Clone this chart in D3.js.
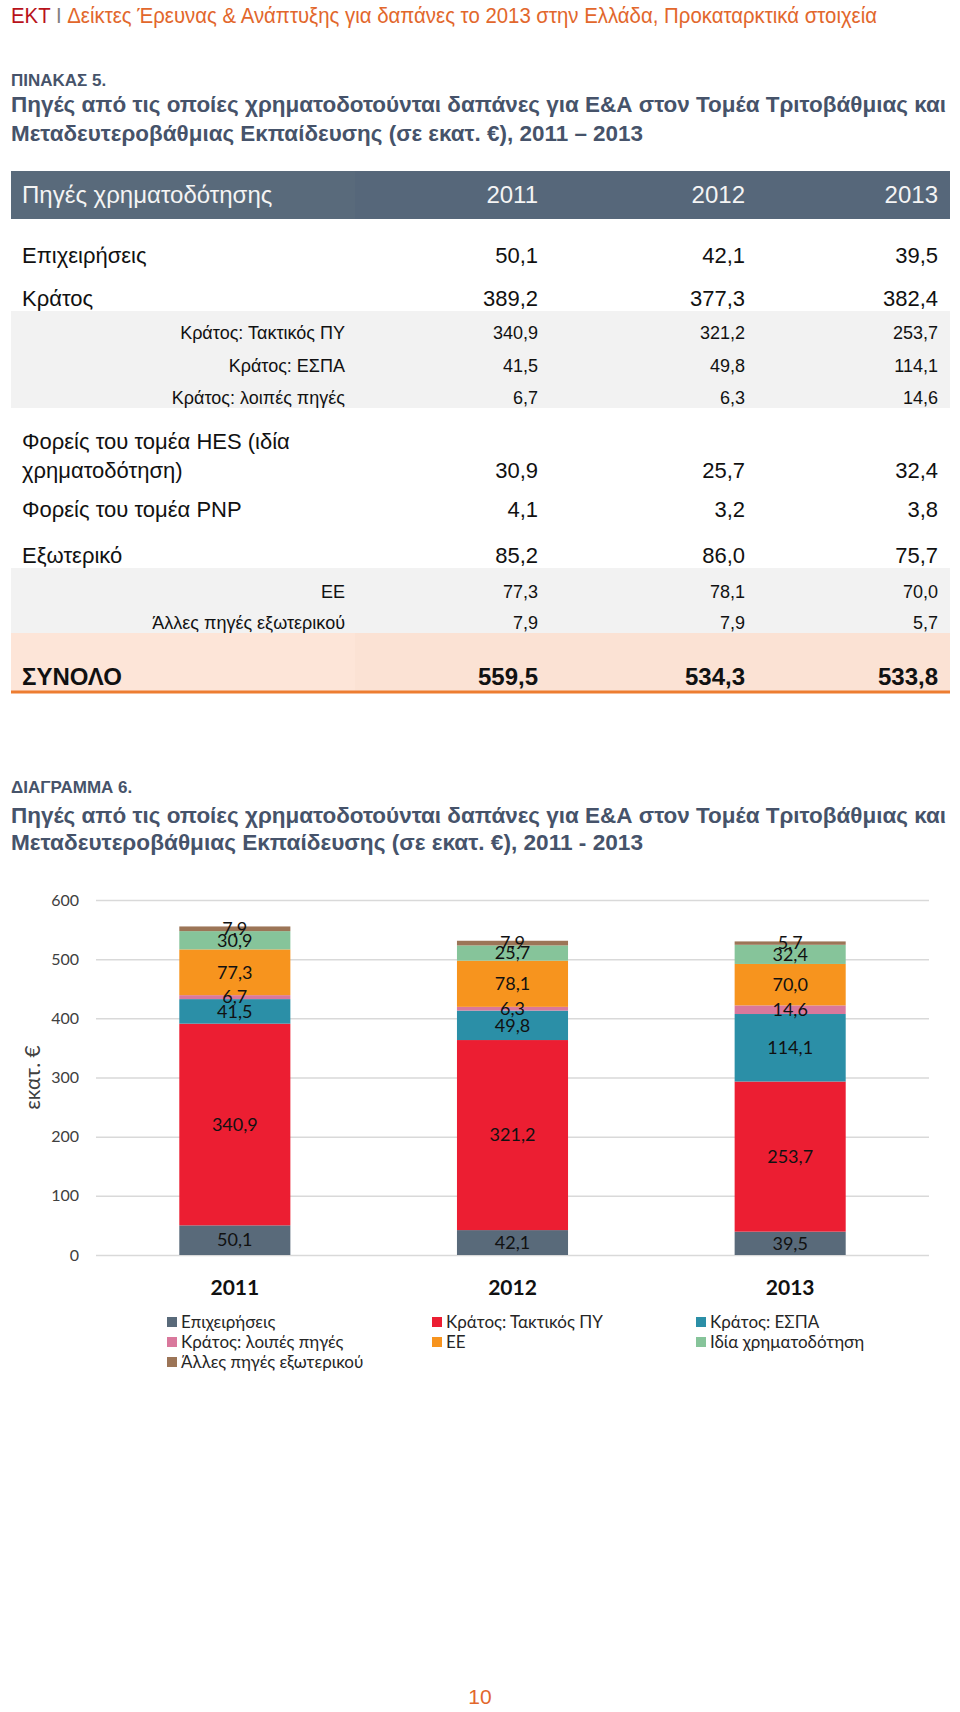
<!DOCTYPE html>
<html>
<head>
<meta charset="utf-8">
<script src="https://cdn.jsdelivr.net/npm/d3@7"></script>
<style>
    body { margin: 0; background: #fff; }
    svg { display: block; }
</style>
</head>
<body>
<script>
// Δεδομένα (σε εκατ. €)
const years = ['2011', '2012', '2013'];
const business = [50.1, 42.1, 39.5];
const stateTotal = [389.2, 377.3, 382.4];
const stateRegular = [340.9, 321.2, 253.7];
const stateEspa = [41.5, 49.8, 114.1];
const stateOther = [6.7, 6.3, 14.6];
const hes = [30.9, 25.7, 32.4];
const pnp = [4.1, 3.2, 3.8];
const abroad = [85.2, 86.0, 75.7];
const eu = [77.3, 78.1, 70.0];
const abroadOther = [7.9, 7.9, 5.7];
const total = [559.5, 534.3, 533.8];

const yTicks = [0, 100, 200, 300, 400, 500, 600];

// σειρές του διαγράμματος, από κάτω προς τα πάνω
const seriesNames = ['Επιχειρήσεις', 'Κράτος: Τακτικός ΠΥ', 'Κράτος: ΕΣΠΑ', 'Κράτος: λοιπές πηγές', 'ΕΕ', 'Ιδία χρηματοδότηση', 'Άλλες πηγές εξωτερικού'];
const seriesValues = [business, stateRegular, stateEspa, stateOther, eu, hes, abroadOther];
const seriesColors = ['#596a7a', '#ec1e32', '#2b8fa7', '#d9789c', '#f7941e', '#86c49a', '#9c7557'];

const locale = d3.formatLocale({ decimal: ',', thousands: '.', grouping: [3], currency: ['', '€'] });
const fmt = locale.format('.1f');

const W = 960, H = 1712;
const svg = d3.select('body').append('svg').attr('width', W).attr('height', H);

const ARIAL = '"Liberation Sans", Arial, sans-serif';
const CALIBRI = 'Lato, "Open Sans", sans-serif';
const titleColor = '#46536a';

// Κεφαλίδα σελίδας
const head = svg.append('text')
    .attr('x', 11).attr('y', 23)
    .attr('font-family', ARIAL).attr('font-size', 22)
    .attr('textLength', 866).attr('lengthAdjust', 'spacingAndGlyphs');
head.append('tspan').attr('fill', '#b8121b').text('ΕΚΤ');
head.append('tspan').attr('fill', '#808080').text(' I ');
head.append('tspan').attr('fill', '#e2672c').text('Δείκτες Έρευνας & Ανάπτυξης για δαπάνες το 2013 στην Ελλάδα, Προκαταρκτικά στοιχεία');

// Τίτλοι (πίνακας και διάγραμμα έχουν ίδια μορφή)
const drawTitle = (ys, label, line2) => {
    svg.append('text').attr('x', 11).attr('y', ys[0])
        .attr('font-family', ARIAL).attr('font-size', 17).attr('font-weight', 'bold')
        .attr('fill', titleColor).text(label);
    svg.append('text').attr('x', 11).attr('y', ys[1])
        .attr('font-family', ARIAL).attr('font-size', 22).attr('font-weight', 'bold')
        .attr('fill', titleColor)
        .attr('textLength', 935).attr('lengthAdjust', 'spacingAndGlyphs')
        .text('Πηγές από τις οποίες χρηματοδοτούνται δαπάνες για Ε&Α στον Τομέα Τριτοβάθμιας και');
    svg.append('text').attr('x', 11).attr('y', ys[2])
        .attr('font-family', ARIAL).attr('font-size', 22).attr('font-weight', 'bold')
        .attr('fill', titleColor)
        .attr('textLength', 632).attr('lengthAdjust', 'spacingAndGlyphs')
        .text(line2);
};
drawTitle([86, 112, 141], 'ΠΙΝΑΚΑΣ 5.', 'Μεταδευτεροβάθμιας Εκπαίδευσης (σε εκατ. €), 2011 – 2013');
drawTitle([793, 823, 850], 'ΔΙΑΓΡΑΜΜΑ 6.', 'Μεταδευτεροβάθμιας Εκπαίδευσης (σε εκατ. €), 2011 - 2013');

// ---------- Πίνακας ----------
const tLeft = 11, tRight = 950, tSplit = 355;
const colX = [538, 745, 938];

// φόντα
svg.append('rect').attr('x', tLeft).attr('y', 171).attr('width', tSplit - tLeft).attr('height', 48).attr('fill', '#596a7b');
svg.append('rect').attr('x', tSplit).attr('y', 171).attr('width', tRight - tSplit).attr('height', 48).attr('fill', '#56677a');
svg.append('rect').attr('x', tLeft).attr('y', 311).attr('width', tRight - tLeft).attr('height', 97).attr('fill', '#f2f2f2');
svg.append('rect').attr('x', tLeft).attr('y', 568).attr('width', tRight - tLeft).attr('height', 65).attr('fill', '#f2f2f2');
svg.append('rect').attr('x', tLeft).attr('y', 633).attr('width', tSplit - tLeft).attr('height', 58).attr('fill', '#fde5d8');
svg.append('rect').attr('x', tSplit).attr('y', 633).attr('width', tRight - tSplit).attr('height', 58).attr('fill', '#fbe2d4');
svg.append('line').attr('x1', tLeft).attr('x2', tRight).attr('y1', 692).attr('y2', 692)
    .attr('stroke', '#ed7d31').attr('stroke-width', 3);

// γραμμή κεφαλίδας
const headRow = svg.append('g').attr('font-family', ARIAL).attr('font-size', 24).attr('fill', '#f4f4f4');
headRow.append('text').attr('x', 22).attr('y', 203).text('Πηγές χρηματοδότησης');
headRow.selectAll('text.yr').data(years).join('text')
    .attr('class', 'yr')
    .attr('x', (d, i) => colX[i]).attr('y', 203)
    .attr('text-anchor', 'end').text(d => d);

// γραμμές πίνακα: κύριες (αριστερά) και υπογραμμές (δεξιά στοίχιση)
const tableRows = [
    { label: ['Επιχειρήσεις'], values: business, y: 263, kind: 'main' },
    { label: ['Κράτος'], values: stateTotal, y: 306, kind: 'main' },
    { label: ['Κράτος: Τακτικός ΠΥ'], values: stateRegular, y: 339, kind: 'sub' },
    { label: ['Κράτος: ΕΣΠΑ'], values: stateEspa, y: 372, kind: 'sub' },
    { label: ['Κράτος: λοιπές πηγές'], values: stateOther, y: 404, kind: 'sub' },
    { label: ['Φορείς του τομέα HES (ιδία', 'χρηματοδότηση)'], values: hes, y: 478, kind: 'main' },
    { label: ['Φορείς του τομέα PNP'], values: pnp, y: 517, kind: 'main' },
    { label: ['Εξωτερικό'], values: abroad, y: 563, kind: 'main' },
    { label: ['ΕΕ'], values: eu, y: 598, kind: 'sub' },
    { label: ['Άλλες πηγές εξωτερικού'], values: abroadOther, y: 629, kind: 'sub' },
    { label: ['ΣΥΝΟΛΟ'], values: total, y: 685, kind: 'total' }
];

const rowG = svg.append('g').attr('font-family', ARIAL).attr('fill', '#111');
tableRows.forEach((row) => {
    const size = row.kind === 'sub' ? 18 : (row.kind === 'total' ? 24 : 22);
    const weight = row.kind === 'total' ? 'bold' : 'normal';
    const n = row.label.length;
    row.label.forEach((line, k) => {
        rowG.append('text')
            .attr('x', row.kind === 'sub' ? 345 : 22)
            .attr('y', row.y - (n - 1 - k) * 29)
            .attr('text-anchor', row.kind === 'sub' ? 'end' : 'start')
            .attr('font-size', size).attr('font-weight', weight)
            .text(line);
    });
    row.values.forEach((v, i) => {
        rowG.append('text')
            .attr('x', colX[i]).attr('y', row.y)
            .attr('text-anchor', 'end')
            .attr('font-size', size).attr('font-weight', weight)
            .text(fmt(v));
    });
});

// ---------- Διάγραμμα ----------
const plot = { left: 96, right: 929, top: 900, bottom: 1255 };

const x = d3.scaleBand().domain(years).range([plot.left, plot.right])
    .paddingInner(0.6).paddingOuter(0.3);
const y = d3.scaleLinear().domain([0, 600]).range([plot.bottom, plot.top]);

// άξονας y με γραμμές πλέγματος
const yAxis = svg.append('g')
    .attr('transform', `translate(${plot.left},0)`)
    .call(d3.axisLeft(y).tickValues(yTicks).tickSize(-(plot.right - plot.left)).tickPadding(17).tickFormat(d3.format('d')));
yAxis.select('.domain').remove();
yAxis.selectAll('.tick line').attr('stroke', '#d9d9d9').attr('stroke-width', 1.5);
yAxis.selectAll('.tick text').attr('font-family', CALIBRI).attr('font-size', 16).attr('fill', '#404040');

svg.append('text')
    .attr('transform', `translate(40,${(plot.top + plot.bottom) / 2}) rotate(-90)`)
    .attr('text-anchor', 'middle')
    .attr('font-family', CALIBRI).attr('font-size', 21).attr('fill', '#404040')
    .text('εκατ. €');

// στοίβαξη
const table = years.map((yr, i) => {
    const row = { year: yr };
    seriesNames.forEach((s, k) => { row[s] = seriesValues[k][i]; });
    return row;
});
const stacked = d3.stack().keys(seriesNames)(table);

const layers = svg.append('g').selectAll('g')
    .data(stacked).join('g')
    .attr('fill', (d, k) => seriesColors[k]);

layers.selectAll('rect')
    .data(d => d).join('rect')
    .attr('x', d => x(d.data.year))
    .attr('width', x.bandwidth())
    .attr('y', d => y(d[1]))
    .attr('height', d => y(d[0]) - y(d[1]));

// ετικέτες τιμών στο κέντρο κάθε τμήματος
const labels = svg.append('g').attr('font-family', CALIBRI).attr('font-size', 18).attr('fill', '#111')
    .attr('text-anchor', 'middle');
stacked.forEach((layer) => {
    layer.forEach((d) => {
        labels.append('text')
            .attr('x', x(d.data.year) + x.bandwidth() / 2)
            .attr('y', y((d[0] + d[1]) / 2))
            .attr('dy', '0.35em')
            .text(fmt(d[1] - d[0]));
    });
});

// ετικέτες κατηγοριών
svg.append('g').selectAll('text')
    .data(years).join('text')
    .attr('x', d => x(d) + x.bandwidth() / 2)
    .attr('y', 1295)
    .attr('text-anchor', 'middle')
    .attr('font-family', CALIBRI).attr('font-size', 21).attr('font-weight', 'bold').attr('fill', '#111')
    .text(d => d);

// υπόμνημα
const legendCols = [167, 432, 696];
const legendRows = [1322, 1342, 1362];
const legend = svg.append('g').selectAll('g')
    .data(seriesNames).join('g')
    .attr('transform', (d, k) => `translate(${legendCols[k % 3]},${legendRows[Math.floor(k / 3)]})`);
legend.append('rect')
    .attr('x', 0).attr('y', -5).attr('width', 10).attr('height', 10)
    .attr('fill', (d, k) => seriesColors[k]);
legend.append('text')
    .attr('x', 14).attr('dy', '0.35em')
    .attr('font-family', CALIBRI).attr('font-size', 17).attr('fill', '#262626')
    .text(d => d);

// αριθμός σελίδας
svg.append('text').attr('x', 480).attr('y', 1704).attr('text-anchor', 'middle')
    .attr('font-family', ARIAL).attr('font-size', 21).attr('fill', '#e2672c').text('10');
</script>
</body>
</html>
